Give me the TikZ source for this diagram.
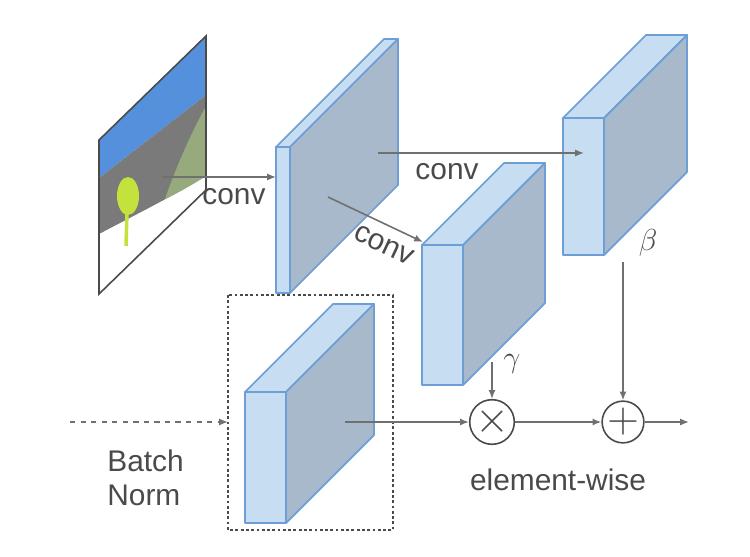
\documentclass[tikz,border=0pt]{standalone}
\usepackage{fontspec}
\setmainfont{Liberation Sans}
\usetikzlibrary{arrows.meta}

\definecolor{facelight}{HTML}{C6DDF2}
\definecolor{facedark}{HTML}{A7B9CB}
\definecolor{faceedge}{HTML}{6D9FD6}
\definecolor{linegray}{HTML}{707070}
\definecolor{textgray}{HTML}{4A4A4A}
\definecolor{sky}{HTML}{5590DC}
\definecolor{road}{HTML}{7A7A7A}
\definecolor{grass}{HTML}{97AA7D}
\definecolor{tree}{HTML}{C4E23C}

% front face at (x,y), width w, height h, depth d
\newcommand{\featmap}[5]{%
  \filldraw[facelight, draw=faceedge, line width=1pt, line join=round]
    (#1,#2) rectangle (#1+#3,#2+#4);
  \filldraw[facelight, draw=faceedge, line width=1pt, line join=round]
    (#1,#2) -- (#1+#5,#2-#5) -- (#1+#3+#5,#2-#5) -- (#1+#3,#2) -- cycle;
  \filldraw[facedark, draw=faceedge, line width=1pt, line join=round]
    (#1+#3,#2) -- (#1+#3+#5,#2-#5) -- (#1+#3+#5,#2+#4-#5) -- (#1+#3,#2+#4) -- cycle;
}

\begin{document}
\begin{tikzpicture}[x=0.02cm, y=-0.02cm,
  txt/.style={text=textgray, font=\fontsize{17}{19.5}\selectfont, inner sep=0pt},
  arr/.style={draw=linegray, line width=0.9pt, -{Latex[length=5pt,width=4pt]}},
  opcirc/.style={circle, draw=textgray, line width=0.9pt, minimum size=0.8cm, inner sep=0pt, text=textgray, font=\fontsize{24}{24}\selectfont}]
\useasboundingbox (0,0) rectangle (750,557);

% input segmentation map
\begin{scope}
\clip (99,140) -- (206,36) -- (206,190) -- (99,294) -- cycle;
\fill[white] (90,30) rectangle (210,300);
\fill[sky] (99,178) -- (99,130) -- (206,30) -- (206,95) -- cycle;
\fill[road] (99,178) -- (206,95) -- (206,176) .. controls (175,195) and (135,215) .. (99,234) -- cycle;
\fill[grass] (206,106) .. controls (190,135) and (175,170) .. (165,199) .. controls (180,192) and (195,183) .. (206,176) -- cycle;
\fill[tree] (128,196) ellipse [x radius=11, y radius=19];
\draw[tree, line width=2pt] (127,212) -- (126,246);
\end{scope}
\draw[textgray, line width=0.9pt] (99,140) -- (206,36) -- (206,190) -- (99,294) -- cycle;

% feature maps
\featmap{276}{147}{14}{146}{108}
\featmap{563}{118}{41}{137}{83}
\featmap{422}{245}{41}{140}{82}
\featmap{245}{392}{41}{131}{88}

% batch norm box
\draw[textgray, line width=0.8pt, dash pattern=on 1.6pt off 1.4pt] (228,295) rectangle (393,530);

\coordinate (imgc) at (163,177);
\coordinate (fmapin) at (276,177);
\coordinate (fmapa) at (378,153);
\coordinate (betain) at (584,153);
\coordinate (fmapb) at (328,197);
\coordinate (gammain) at (423,242);
\coordinate (bnin) at (70,422);
\coordinate (bnleft) at (228,422);
\coordinate (bnout) at (345,422);
\coordinate (gammaout) at (492,362);
\coordinate (betaout) at (623,262);
\coordinate (outc) at (689,422);

\node[opcirc] (mul) at (492,422) {$\times$};
\node[opcirc] (add) at (623,422) {$+$};

\draw[arr] (imgc) -- (fmapin);
\draw[arr] (fmapa) -- (betain);
\draw[arr] (fmapb) -- (gammain);
\draw[arr, dashed] (bnin) -- (bnleft);
\draw[arr] (bnout) -- (mul);
\draw[arr] (mul) -- (add);
\draw[arr] (add) -- (outc);
\draw[arr] (gammaout) -- (mul);
\draw[arr] (betaout) -- (add);

\node[txt] (conva) at (234,197) {conv};
\node[txt] (convb) at (447,172) {conv};
\node[txt, rotate=-25] (convc) at (384,245) {conv};
\node[txt] (gam) at (512,364) {$\gamma$};
\node[txt] (bet) at (648,243) {$\beta$};
\node[txt, align=left, anchor=west] (bn) at (107,478) {Batch\\Norm};
\node[txt] (ew) at (558,480) {element-wise};
\end{tikzpicture}
\end{document}
